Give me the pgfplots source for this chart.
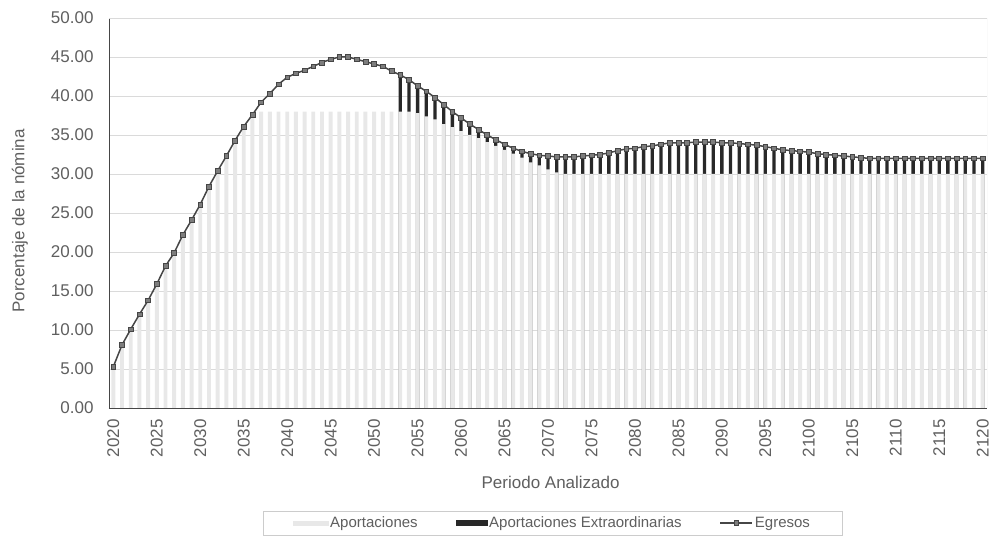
\documentclass[border=0pt]{standalone}
\usepackage{pgfplots}
\pgfplotsset{compat=1.18}
\usepackage{pgfplotstable}
\usepackage{fontspec}
\setmainfont{Liberation Sans}
\definecolor{txt}{RGB}{95,95,95}
\definecolor{lightbar}{RGB}{232,232,232}
\definecolor{darkbar}{RGB}{40,40,40}
\definecolor{egr}{RGB}{70,70,70}
\definecolor{mk}{RGB}{125,125,125}
\definecolor{gridc}{RGB}{218,218,218}

\pgfplotstableread{
year egr aport
2020 5.3 5.3
2021 8.1 8.1
2022 10.1 10.1
2023 12.0 12.0
2024 13.8 13.8
2025 15.9 15.9
2026 18.2 18.2
2027 19.9 19.9
2028 22.2 22.2
2029 24.1 24.1
2030 26.1 26.1
2031 28.4 28.4
2032 30.4 30.4
2033 32.3 32.3
2034 34.3 34.3
2035 36.1 36.1
2036 37.6 37.6
2037 39.2 38.0
2038 40.3 38.0
2039 41.5 38.0
2040 42.4 38.0
2041 42.9 38.0
2042 43.3 38.0
2043 43.8 38.0
2044 44.3 38.0
2045 44.7 38.0
2046 45.0 38.0
2047 45.0 38.0
2048 44.7 38.0
2049 44.4 38.0
2050 44.1 38.0
2051 43.8 38.0
2052 43.2 38.0
2053 42.7 38.0
2054 42.1 38.0
2055 41.3 37.8
2056 40.6 37.4
2057 39.8 37.0
2058 38.9 36.4
2059 38.0 36.0
2060 37.2 35.5
2061 36.4 35.0
2062 35.7 34.6
2063 35.0 34.1
2064 34.4 33.6
2065 33.8 33.1
2066 33.3 32.6
2067 32.9 32.1
2068 32.6 31.5
2069 32.4 31.1
2070 32.3 30.6
2071 32.2 30.2
2072 32.2 30.0
2073 32.2 30.0
2074 32.3 30.0
2075 32.4 30.0
2076 32.5 30.0
2077 32.7 30.0
2078 33.0 30.0
2079 33.2 30.0
2080 33.3 30.0
2081 33.5 30.0
2082 33.6 30.0
2083 33.8 30.0
2084 34.0 30.0
2085 34.0 30.0
2086 34.0 30.0
2087 34.1 30.0
2088 34.1 30.0
2089 34.1 30.0
2090 34.0 30.0
2091 34.0 30.0
2092 33.9 30.0
2093 33.8 30.0
2094 33.7 30.0
2095 33.5 30.0
2096 33.3 30.0
2097 33.1 30.0
2098 33.0 30.0
2099 32.9 30.0
2100 32.8 30.0
2101 32.6 30.0
2102 32.5 30.0
2103 32.4 30.0
2104 32.3 30.0
2105 32.2 30.0
2106 32.1 30.0
2107 32.0 30.0
2108 32.0 30.0
2109 32.0 30.0
2110 32.0 30.0
2111 32.0 30.0
2112 32.0 30.0
2113 32.0 30.0
2114 32.0 30.0
2115 32.0 30.0
2116 32.0 30.0
2117 32.0 30.0
2118 32.0 30.0
2119 32.0 30.0
2120 32.0 30.0
}\data

\begin{document}
\begin{tikzpicture}
\useasboundingbox (-109pt,-132pt) rectangle (884pt,408pt);
\begin{axis}[
  scale only axis,
  width=878pt, height=390pt,
  xmin=2019.5, xmax=2120.5, ymin=0, ymax=50,
  xtick={2020,2025,...,2120},
  ytick={0,5,...,50},
  axis lines*=left,
  axis line style={draw=egr, line width=0.8pt},
  ymajorgrids, grid style={draw=gridc, line width=0.7pt},
  major tick length=0pt,
  /pgf/number format/assume math mode=true,
  tick label style={font=\fontsize{17}{17}\selectfont, text=txt},
  xticklabel style={yshift=-8pt, rotate=90, anchor=east, /pgf/number format/1000 sep={}},
  yticklabel style={xshift=-12pt, /pgf/number format/.cd, fixed, fixed zerofill, precision=2},
  xlabel={Periodo Analizado},
  ylabel={Porcentaje de la nómina},
  every axis x label/.style={at={(rel axis cs:0.503,0)}, yshift=-74pt, anchor=center, font=\fontsize{17}{17}\selectfont, text=txt},
  every axis y label/.style={at={(rel axis cs:0,0.48)}, xshift=-89pt, rotate=90, anchor=center, font=\fontsize{17}{17}\selectfont, text=txt},
  legend columns=3,
  legend cell align=left,
  legend style={at={(0.505,-0.295)}, anchor=center, draw=gray!40, font=\fontsize{15}{15}\selectfont, text=txt,
    inner xsep=30pt, inner ysep=4pt,
    /tikz/every even column/.append style={column sep=36pt}},
]
\addlegendimage{legend image code/.code={\fill[lightbar] (0pt,-2pt) rectangle (35pt,2pt);}}
\addlegendentry{Aportaciones}
\addlegendimage{legend image code/.code={\fill[darkbar] (0pt,-2.5pt) rectangle (31pt,2.5pt);}}
\addlegendentry{Aportaciones Extraordinarias}
\addlegendimage{legend image code/.code={\draw[color=egr, line width=1.2pt] (0pt,0pt) -- (32pt,0pt); \fill[mk, draw=egr, line width=0.5pt] (13.5pt,-2.3pt) rectangle (18.1pt,2.3pt);}}
\addlegendentry{Egresos}

\addplot[ybar, bar width=3.3pt, bar shift=0pt, fill=darkbar, draw=none, restrict x to domain=2053:2120, forget plot] table[x=year, y=egr] {\data};
\addplot[ybar, bar width=3.9pt, bar shift=0pt, fill=lightbar, draw=none, forget plot] table[x=year, y=aport] {\data};
\addplot[color=egr, line width=1.5pt, mark=square*, mark size=2.4pt, mark options={fill=mk, draw=egr, line width=0.6pt}, forget plot] table[x=year, y=egr] {\data};
\draw[gridc, line width=0.8pt] (rel axis cs:0,1) -- (rel axis cs:1,1) -- (rel axis cs:1,0);
\end{axis}
\end{tikzpicture}
\end{document}
